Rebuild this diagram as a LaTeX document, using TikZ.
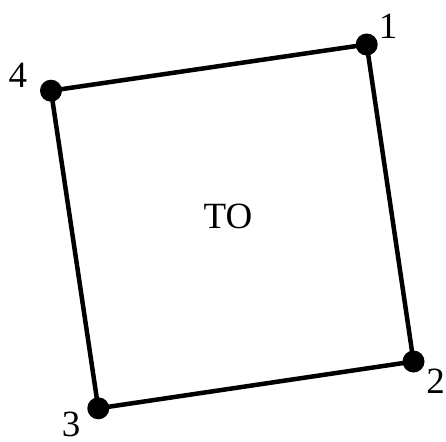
\documentclass[tikz,border=0pt]{standalone}
\usepackage{fontspec}
\setmainfont{Liberation Serif}
\usepackage{tikz}
\usetikzlibrary{positioning, backgrounds}

\tikzset{
  vertex/.style={circle, fill=black, inner sep=0pt, minimum size=22pt},
  vlabel/.style={inner sep=0pt, font=\fontsize{37}{40}\selectfont},
  edge/.style={line width=4.5pt}
}

\begin{document}
\begin{tikzpicture}[x=1pt, y=-1pt]
        \useasboundingbox (0,0) rectangle (446,441);
        % corners of the square
        \node[vertex] (p1) at (366.7,44.5) {};
        \node[vertex] (p2) at (413.5,361.5) {};
        \node[vertex] (p3) at (98.3,408.3) {};
        \node[vertex] (p4) at (51,90.7) {};
        % corner numbers
        \node[vlabel] (l1) at (388,26) {1};
        \node[vlabel] (l2) at (435.5,381.5) {2};
        \node[vlabel] (l3) at (71,424.5) {3};
        \node[vlabel] (l4) at (18,75) {4};
        % centre text
        \node[vlabel] (name) at (228,216.5) {TO};
        % sides, behind the dots
        \begin{scope}[on background layer]
          \draw[edge] (p1.center) -- (p2.center) -- (p3.center) -- (p4.center) -- cycle;
        \end{scope}
      \end{tikzpicture}
\end{document}
